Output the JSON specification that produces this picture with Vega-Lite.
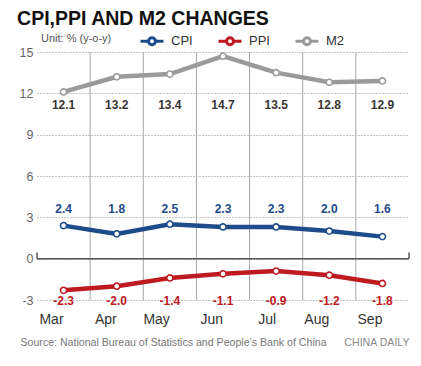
{
  "$schema": "https://vega.github.io/schema/vega-lite/v6.json",
  "width": 372,
  "height": 248,
  "autosize": {"type": "none"},
  "padding": {"left": 37, "top": 52, "right": 12, "bottom": 66},
  "background": "white",
  "title": {
    "text": "CPI,PPI AND M2 CHANGES",
    "anchor": "start",
    "dx": -2,
    "dy": 18,
    "offset": 2,
    "baseline": "alphabetic",
    "font": "Liberation Sans",
    "fontSize": 19.5,
    "fontWeight": "bold",
    "color": "#111111"
  },
  "data": {
    "values": [
      {"month": "Mar", "series": "CPI", "value": 2.4},
      {"month": "Apr", "series": "CPI", "value": 1.8},
      {"month": "May", "series": "CPI", "value": 2.5},
      {"month": "Jun", "series": "CPI", "value": 2.3},
      {"month": "Jul", "series": "CPI", "value": 2.3},
      {"month": "Aug", "series": "CPI", "value": 2.0},
      {"month": "Sep", "series": "CPI", "value": 1.6},
      {"month": "Mar", "series": "PPI", "value": -2.3},
      {"month": "Apr", "series": "PPI", "value": -2.0},
      {"month": "May", "series": "PPI", "value": -1.4},
      {"month": "Jun", "series": "PPI", "value": -1.1},
      {"month": "Jul", "series": "PPI", "value": -0.9},
      {"month": "Aug", "series": "PPI", "value": -1.2},
      {"month": "Sep", "series": "PPI", "value": -1.8},
      {"month": "Mar", "series": "M2", "value": 12.1},
      {"month": "Apr", "series": "M2", "value": 13.2},
      {"month": "May", "series": "M2", "value": 13.4},
      {"month": "Jun", "series": "M2", "value": 14.7},
      {"month": "Jul", "series": "M2", "value": 13.5},
      {"month": "Aug", "series": "M2", "value": 12.8},
      {"month": "Sep", "series": "M2", "value": 12.9}
    ]
  },
  "layer": [
    {
      "transform": [{"filter": "datum.series === 'CPI' && datum.month !== 'Mar'"}],
      "mark": {"type": "rule", "color": "#a8a8a8", "strokeWidth": 1},
      "encoding": {
        "x": {"field": "month", "type": "nominal", "bandPosition": 0, "scale": {"type": "band", "domain": ["Mar", "Apr", "May", "Jun", "Jul", "Aug", "Sep"], "paddingInner": 0, "paddingOuter": 0}},
        "y": {"datum": 15, "type": "quantitative", "scale": {"domain": [-3, 15], "nice": false, "zero": false}},
        "y2": {"datum": -3}
      }
    },
    {
      "data": {"values": [{}]},
      "mark": {"type": "rule", "color": "#555555", "strokeWidth": 1.5},
      "encoding": {"y": {"datum": 0, "type": "quantitative"}}
    },
    {
      "data": {"values": [{}]},
      "mark": {"type": "rule", "color": "#555555", "strokeWidth": 1.5},
      "encoding": {
        "x": {"datum": "Mar", "type": "nominal", "bandPosition": 0},
        "y": {"datum": 0, "type": "quantitative"},
        "y2": {"datum": 0.45}
      }
    },
    {
      "data": {"values": [{}]},
      "mark": {"type": "rule", "color": "#555555", "strokeWidth": 1.5},
      "encoding": {
        "x": {"datum": "Sep", "type": "nominal", "bandPosition": 1},
        "y": {"datum": 0, "type": "quantitative"},
        "y2": {"datum": 0.45}
      }
    },
    {
      "mark": {"type": "line", "strokeWidth": 4.5},
      "encoding": {
        "x": {
          "field": "month", "type": "nominal", "bandPosition": 0.5,
          "axis": {
            "title": "Source: National Bureau of Statistics and People\u2019s Bank of China",
            "titleX": -17, "titleY": 42, "titleAlign": "left", "titleAnchor": null, "titleBaseline": "middle",
            "titleFont": "Liberation Sans", "titleFontSize": 10.6, "titleFontWeight": "normal", "titleColor": "#777777",
            "labelAngle": 0, "labelPadding": 19, "labelFontSize": 14, "labelColor": "#333333",
            "labelFont": "Liberation Sans",
            "domain": false, "ticks": false, "grid": false
          }
        },
        "y": {
          "field": "value", "type": "quantitative",
          "axis": {
            "values": [-3, 0, 3, 6, 9, 12, 15],
            "grid": true, "gridDash": [1, 2], "gridColor": "#888888", "gridWidth": 1,
            "domain": false, "ticks": false, "labelPadding": 4,
            "labelFontSize": 12.5, "labelColor": "#666666",
            "labelFont": "Liberation Sans",
            "title": "CHINA DAILY", "titleAngle": 0, "titleX": 372, "titleY": 290,
            "titleAlign": "right", "titleBaseline": "middle", "titleAnchor": null,
            "titleFont": "Liberation Sans", "titleFontSize": 10.6, "titleFontWeight": "normal", "titleColor": "#888888"
          }
        },
        "color": {
          "field": "series", "type": "nominal",
          "scale": {"domain": ["CPI", "PPI", "M2"], "range": ["#1d4c8a", "#bd1a22", "#9a9a9a"]},
          "legend": {
            "orient": "none", "legendX": 4, "legendY": -24, "direction": "horizontal",
            "title": "Unit: % (y-o-y)", "titleOrient": "left", "titlePadding": 27,
            "titleFont": "Liberation Sans", "titleFontSize": 11, "titleFontWeight": "normal", "titleColor": "#555555",
            "symbolType": "M-1,0H-0.3M0.3,0H1M-0.3,0A0.3,0.3,0,1,1,0.3,0A0.3,0.3,0,1,1,-0.3,0Z",
            "symbolSize": 529, "symbolStrokeWidth": 3, "symbolFillColor": "white",
            "labelFont": "Liberation Sans",
            "labelFontSize": 13, "labelColor": "#333333", "labelOffset": 6, "columnPadding": 19, "padding": 0,
            "encode": {"symbols": {"update": {"fill": {"value": "white"}, "strokeWidth": {"value": 3}, "opacity": {"value": 1}}}}
          }
        }
      }
    },
    {
      "mark": {"type": "point", "filled": false, "fill": "white", "fillOpacity": 1, "opacity": 1, "size": 38, "strokeWidth": 1.6},
      "encoding": {
        "x": {"field": "month", "type": "nominal", "bandPosition": 0.5},
        "y": {"field": "value", "type": "quantitative"},
        "color": {"field": "series", "type": "nominal"}
      }
    },
    {
      "transform": [{"filter": "datum.series === 'M2'"}],
      "mark": {"type": "text", "font": "Liberation Sans", "fontSize": 12, "fontWeight": "bold", "color": "#3b3535", "baseline": "middle"},
      "encoding": {
        "x": {"field": "month", "type": "nominal", "bandPosition": 0.5},
        "y": {"datum": 11.17, "type": "quantitative"},
        "text": {"field": "value", "type": "quantitative", "format": ".1f"}
      }
    },
    {
      "transform": [{"filter": "datum.series === 'CPI'"}],
      "mark": {"type": "text", "font": "Liberation Sans", "fontSize": 12, "fontWeight": "bold", "color": "#1d4c8a", "baseline": "middle"},
      "encoding": {
        "x": {"field": "month", "type": "nominal", "bandPosition": 0.5},
        "y": {"datum": 3.58, "type": "quantitative"},
        "text": {"field": "value", "type": "quantitative", "format": ".1f"}
      }
    },
    {
      "transform": [{"filter": "datum.series === 'PPI'"}],
      "mark": {"type": "text", "font": "Liberation Sans", "fontSize": 12, "fontWeight": "bold", "color": "#bd1a22", "baseline": "middle"},
      "encoding": {
        "x": {"field": "month", "type": "nominal", "bandPosition": 0.5},
        "y": {"datum": -3.04, "type": "quantitative"},
        "text": {"field": "value", "type": "quantitative", "format": ".1f"}
      }
    }
  ],
  "config": {
    "view": {"stroke": null},
    "font": "Liberation Sans",
    "locale": {"number": {"decimal": ".", "thousands": ",", "grouping": [3], "currency": ["$", ""], "minus": "-"}}
  }
}
